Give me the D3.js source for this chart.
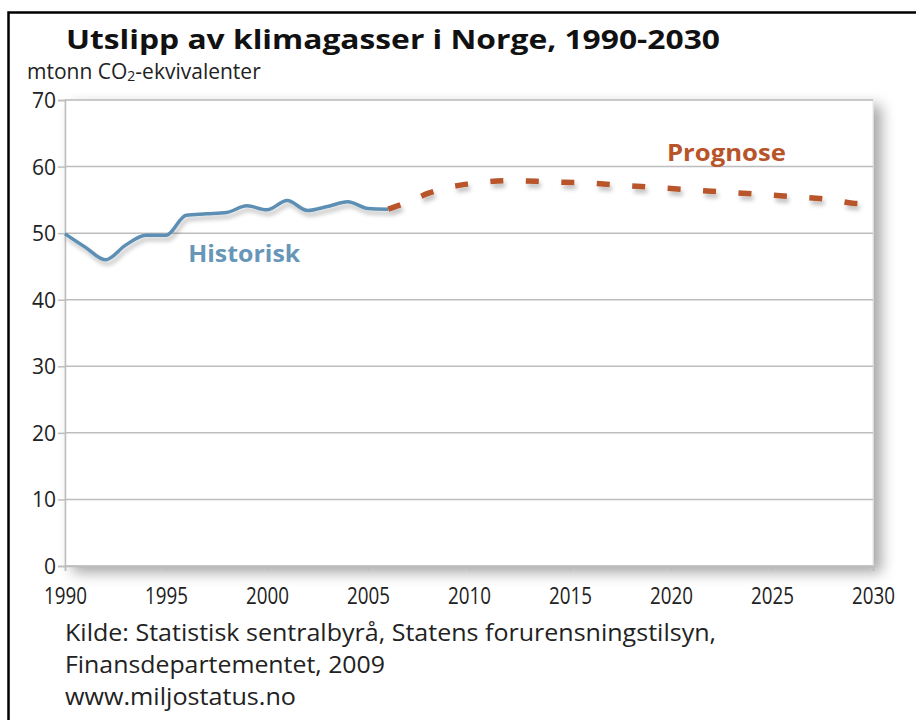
<!DOCTYPE html>
<html>
<head>
<meta charset="utf-8">
<title>Utslipp av klimagasser i Norge, 1990-2030</title>
<script src="https://d3js.org/d3.v7.min.js"></script>
<style>
  body { margin: 0; background: #fff; }
  text { font-family: "Open Sans", "Noto Sans", sans-serif; }
</style>
</head>
<body>
<script>
// Historical emissions (mtonn CO2-ekv.)
const histYears  = [1990, 1991, 1992, 1993, 1994, 1995, 1996, 1997, 1998, 1999, 2000, 2001, 2002, 2003, 2004, 2005, 2006];
const histValues = [49.9, 47.9, 46.0, 48.2, 49.7, 49.7, 52.7, 52.9, 53.1, 54.1, 53.5, 54.9, 53.4, 54.0, 54.7, 53.7, 53.6];

// Forecast
const progYears  = [2006, 2007, 2008, 2009, 2010, 2012, 2014, 2016, 2018, 2020, 2022, 2024, 2026, 2028, 2029, 2030];
const progValues = [53.6, 54.7, 56.0, 56.9, 57.4, 57.9, 57.7, 57.5, 57.1, 56.7, 56.3, 55.9, 55.5, 55.0, 54.5, 54.4];

const xTicks = [1990, 1995, 2000, 2005, 2010, 2015, 2020, 2025, 2030];
const yTicks = [0, 10, 20, 30, 40, 50, 60, 70];

const titleText = "Utslipp av klimagasser i Norge, 1990-2030";
const sourceLines = [
  "Kilde: Statistisk sentralbyrå, Statens forurensningstilsyn,",
  "Finansdepartementet, 2009",
  "www.miljostatus.no"
];

const W = 916, H = 720;
const margin = {top: 100, right: 43, bottom: 154, left: 65};
const width = W - margin.left - margin.right,
      height = H - margin.top - margin.bottom;

const blue = "#5b8fb3", orange = "#b8542a", grid = "#bdbdbd";

const svg = d3.select("body").append("svg")
    .attr("width", W)
    .attr("height", H);

const defs = svg.append("defs");
defs.append("filter").attr("id", "boxShadow")
    .attr("x", "-5%").attr("y", "-5%").attr("width", "115%").attr("height", "115%")
  .append("feDropShadow")
    .attr("dx", 8).attr("dy", 6).attr("stdDeviation", 7)
    .attr("flood-color", "#000").attr("flood-opacity", 0.35);
defs.append("filter").attr("id", "lineShadow")
    .attr("x", "-10%").attr("y", "-50%").attr("width", "120%").attr("height", "200%")
  .append("feDropShadow")
    .attr("dx", 2).attr("dy", 4).attr("stdDeviation", 2)
    .attr("flood-color", "#000").attr("flood-opacity", 0.25);

// outer frame (left + top)
svg.append("path")
    .attr("d", "M8.5,720V12.5H916")
    .attr("fill", "none")
    .attr("stroke", "#000")
    .attr("stroke-width", 2.5);

// title + unit
svg.append("text")
    .attr("x", 66).attr("y", 49)
    .attr("font-size", 27).attr("font-weight", 700).attr("fill", "#111")
    .attr("textLength", 654).attr("lengthAdjust", "spacingAndGlyphs")
    .text(titleText);

const unit = svg.append("text")
    .attr("x", 27).attr("y", 79)
    .attr("font-size", 21).attr("fill", "#222");
unit.append("tspan").text("mtonn CO");
unit.append("tspan").attr("font-size", 14).attr("dy", 2).text("2");
unit.append("tspan").attr("dy", -2).text("-ekvivalenter");

const g = svg.append("g")
    .attr("transform", `translate(${margin.left},${margin.top})`);

const x = d3.scaleLinear().domain([1990, 2030]).range([0, width]);
const y = d3.scaleLinear().domain([0, 70]).range([height, 0]);

// plot panel with shadow
g.append("rect")
    .attr("width", width).attr("height", height)
    .attr("fill", "#fff")
    .attr("stroke", "#e4e4e4")
    .attr("filter", "url(#boxShadow)");

// gridlines
g.append("g").selectAll("line")
  .data(yTicks)
  .join("line")
    .attr("x1", 0).attr("x2", width)
    .attr("y1", d => y(d)).attr("y2", d => y(d))
    .attr("stroke", grid).attr("stroke-width", 1.5);

// y axis
const yAxis = g.append("g")
    .call(d3.axisLeft(y).tickValues(yTicks).tickSize(7).tickPadding(2));
yAxis.select(".domain").attr("stroke", grid).attr("stroke-width", 1.5);
yAxis.selectAll(".tick line").attr("stroke", grid).attr("stroke-width", 1.5);
yAxis.selectAll("text")
    .attr("font-size", 21).attr("fill", "#222")
    .attr("dy", "0.36em")
    .style("font-family", "'Open Sans', sans-serif");

// x axis
const xAxis = g.append("g")
    .attr("transform", `translate(0,${height})`)
    .call(d3.axisBottom(x).tickValues(xTicks).tickFormat(d3.format("d")).tickSize(5).tickPadding(16));
xAxis.select(".domain").attr("stroke", grid).attr("stroke-width", 1.5);
xAxis.selectAll(".tick line").attr("stroke", grid).attr("stroke-width", 1.5);
xAxis.selectAll("text")
    .attr("font-size", 24).attr("fill", "#222")
    .attr("textLength", 43).attr("lengthAdjust", "spacingAndGlyphs")
    .style("font-family", "'Open Sans', sans-serif");

const histData = histYears.map((yr, i) => ({year: yr, value: histValues[i]}));
const progData = progYears.map((yr, i) => ({year: yr, value: progValues[i]}));

const line = d3.line()
    .x(d => x(d.year))
    .y(d => y(d.value))
    .curve(d3.curveMonotoneX);

g.append("path")
    .datum(histData)
    .attr("fill", "none")
    .attr("stroke", blue)
    .attr("stroke-width", 3.5)
    .attr("stroke-linejoin", "round")
    .attr("filter", "url(#lineShadow)")
    .attr("d", line);

g.append("path")
    .datum(progData)
    .attr("fill", "none")
    .attr("stroke", orange)
    .attr("stroke-width", 5.5)
    .attr("stroke-dasharray", "13,22.5")
    .attr("filter", "url(#lineShadow)")
    .attr("d", line);

// series labels
g.append("text")
    .attr("x", x(1996.1)).attr("y", y(45.6))
    .attr("font-size", 24).attr("font-weight", 700).attr("fill", "#6796b8")
    .attr("textLength", 112).attr("lengthAdjust", "spacingAndGlyphs")
    .text("Historisk");

g.append("text")
    .attr("x", x(2019.8)).attr("y", y(60.9))
    .attr("font-size", 24).attr("font-weight", 700).attr("fill", orange)
    .attr("textLength", 119).attr("lengthAdjust", "spacingAndGlyphs")
    .text("Prognose");

// source
svg.append("g").selectAll("text")
  .data(sourceLines)
  .join("text")
    .attr("x", 65)
    .attr("y", (d, i) => 641 + i * 32)
    .attr("font-size", 23).attr("fill", "#222")
    .attr("textLength", (d, i) => [651, 320, 231][i])
    .attr("lengthAdjust", "spacingAndGlyphs")
    .text(d => d);
</script>
</body>
</html>
